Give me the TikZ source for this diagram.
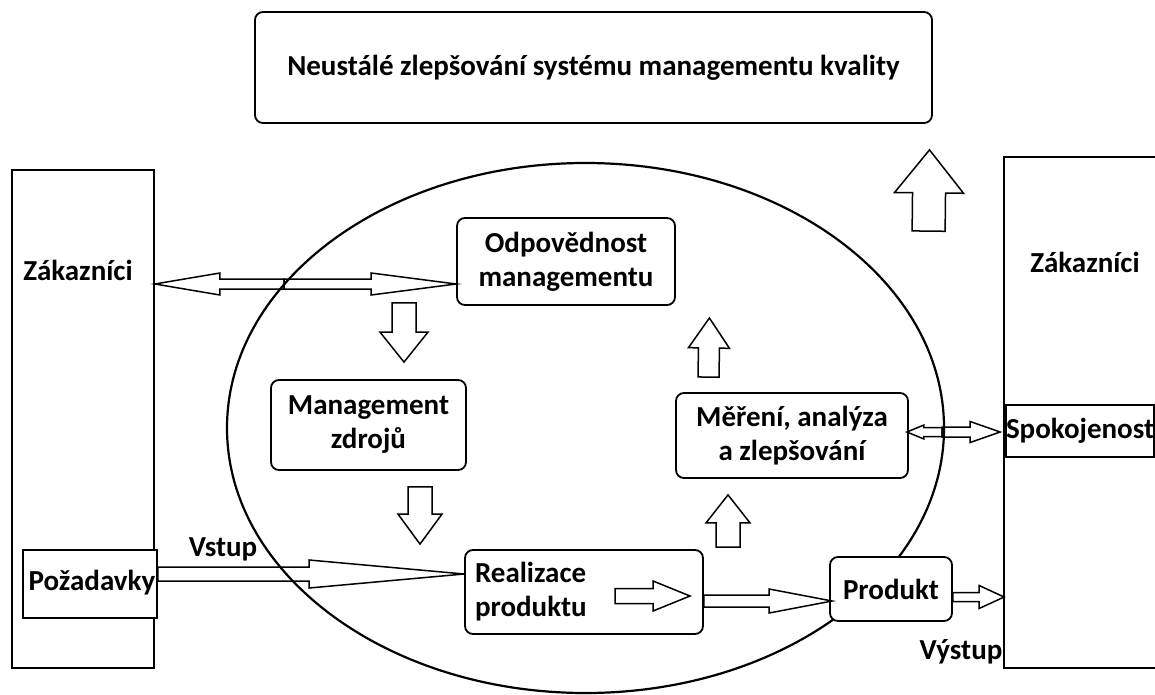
\documentclass[tikz,border=0pt]{standalone}
\usepackage{fontspec}
\setmainfont{Carlito}
\usetikzlibrary{calc}
\newcommand\qmfont{\fontsize{29}{34}\selectfont\bfseries}
\tikzset{
  block/.style = {
    rectangle, rounded corners=8pt,
    draw=black, line width=1.8pt, fill=white,
    minimum width=#1, inner sep=0pt,
    align=center, font=\qmfont
  },
  block/.default = 200pt,
  plainbox/.style = {
    rectangle, draw=black, line width=1.8pt, fill=white,
    minimum width=#1, inner sep=0pt,
    align=center, font=\qmfont
  },
  plainbox/.default = 140pt,
  lbl/.style = {font=\qmfont, inner sep=0pt},
  barr/.style n args = {3}{
    draw=black, line width=1.5pt,
    to path={
      ($(\tikztostart)!#1pt!90:(\tikztotarget)$)
      -- ($($(\tikztotarget)!#3pt!(\tikztostart)$)!#1pt!90:(\tikztotarget)$)
      -- ($($(\tikztotarget)!#3pt!(\tikztostart)$)!#2pt!90:(\tikztotarget)$)
      -- (\tikztotarget)
      -- ($($(\tikztotarget)!#3pt!(\tikztostart)$)!#2pt!-90:(\tikztotarget)$)
      -- ($($(\tikztotarget)!#3pt!(\tikztostart)$)!#1pt!-90:(\tikztotarget)$)
      -- ($(\tikztostart)!#1pt!-90:(\tikztotarget)$)
      -- cycle}
  },
}
\begin{document}
\begin{tikzpicture}[x=1pt, y=-1pt]
  \useasboundingbox (0,0) rectangle (1155,695);

  % process ellipse
  \draw[line width=2.2pt] (585.5,428) ellipse [x radius=358.5, y radius=265];

  \node[block=677pt, minimum height=111pt] (top) at (593.5,67.5)
    {Neustálé zlepšování systému managementu kvality};

  % customers on both sides
  \node[plainbox=142pt, minimum height=498pt] (lcust) at (83,419) {};
  \node[lbl] (lcusttxt) at (78,270) {Zákazníci};
  \node[plainbox=156pt, minimum height=511pt] (rcust) at (1082,412.5) {};
  \node[lbl] (rcusttxt) at (1085,262) {Zákazníci};

  \node[plainbox=134pt, minimum height=68pt] (pozad) at (90,584) {};
  \node[lbl] (pozadtxt) at (92,583) {Požadavky};
  \node[plainbox=140pt, minimum height=52pt] (spk) at (1080,431) {Spokojenost};

  % processes
  \node[block=218pt, minimum height=87pt] (odp) at (566,261.5)
    {Odpovědnost\\managementu};
  \node[block=195pt, minimum height=90pt] (mzdr) at (368.5,425)
    {Management\\zdrojů};
  \node[block=232pt, minimum height=85pt] (mer) at (792,435.5)
    {Měření, analýza\\a zlepšování};
  \node[block=238pt, minimum height=84pt, align=left, text width=218pt]
    (real) at (584,592) {Realizace\\produktu};
  \node[block=122pt, minimum height=64pt] (prod) at (891,589) {Produkt};

  \node[lbl] (vstup) at (223,549) {Vstup};
  \node[lbl] (vystup) at (961,652) {Výstup};

  \coordinate (zodp) at (284,284);
  \coordinate (mspk) at (942,432);

  % block arrows
  \draw[barr={5}{11}{65}] (zodp) to (lcust.east |- zodp);
  \draw[barr={5}{11}{85}] (zodp) to (odp.west |- zodp);
  \draw[barr={12}{24}{30}] ($(odp.south)+(-162,-3)$) to ($(mzdr.north)+(35.5,-17)$);
  \draw[barr={12}{22}{30}] ($(mzdr.south)+(51.5,16)$) to ($(real.north)+(-164,-5)$);
  \draw[barr={12}{22}{28}] ($(real.north)+(144,-2)$) to ($(mer.south)+(-64,16)$);
  \draw[barr={10.5}{20.5}{30}] ($(mer.north)+(-83.5,-15)$) to ($(odp.east)+(33.5,56.5)$);
  \draw[barr={16.5}{34.5}{43}] ($(rcust.north west)+(-74.5,75)$) to ($(top.south)+(336,26)$);
  \draw[barr={7}{14}{155}] ($(pozad.east)+(0,-10)$) to ($(real.west)+(0,-18)$);
  \draw[barr={7.5}{15}{37}] ($(real.center)+(31,4)$) to ($(real.center)+(106,4)$);
  \draw[barr={6}{12}{63}] ($(real.east)+(0,9)$) to ($(prod.west)+(3,12)$);
  \draw[barr={4.5}{11.5}{25}] ($(prod.east)+(0,8)$) to ($(prod.east -| rcust.west)+(1,8)$);
  \draw[barr={4.5}{7}{17}] (mspk) to ($(mer.east)+(-2,-3.5)$);
  \draw[barr={5}{10.5}{30}] (mspk) to ($(spk.west)+(-5,1)$);

\end{tikzpicture}
\end{document}
